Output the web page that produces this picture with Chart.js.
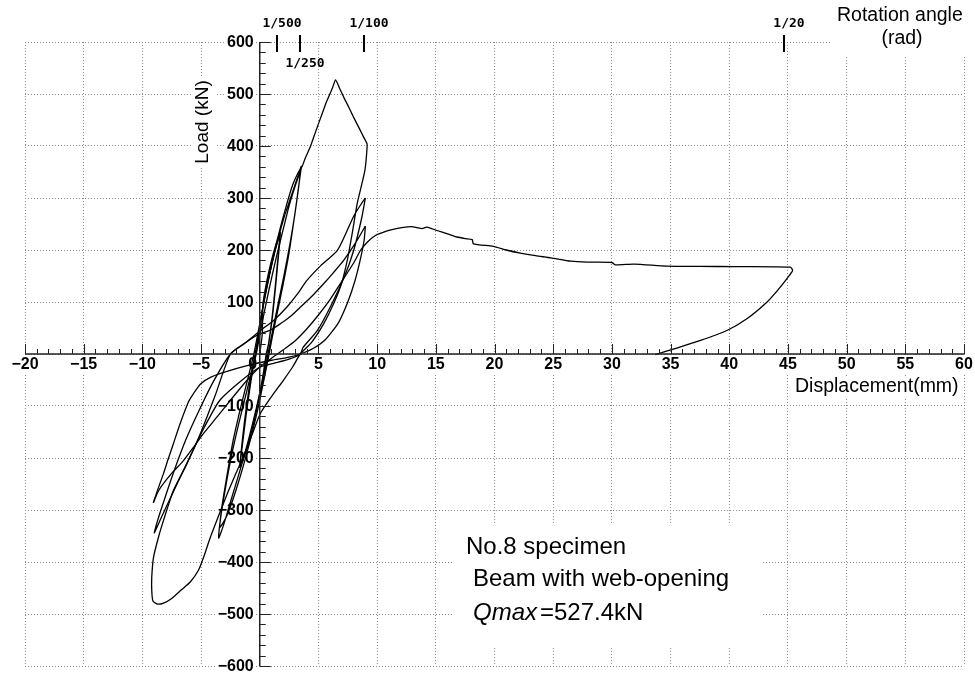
<!DOCTYPE html>
<html>
<head>
<meta charset="utf-8">
<script src="https://cdn.jsdelivr.net/npm/chart.js@4.4.1/dist/chart.umd.min.js"></script>
<style>
  html, body { margin: 0; padding: 0; background: #fff; }
</style>
</head>
<body>
<canvas id="hysteresis" width="975" height="674"></canvas>
<script>
// tick values
const xTickValues = [-20, -15, -10, -5, 0, 5, 10, 15, 20, 25, 30, 35, 40, 45, 50, 55, 60];
const yTickValues = [-600, -500, -400, -300, -200, -100, 0, 100, 200, 300, 400, 500, 600];

// rotation angle marks on top (rad) and the displacement they sit at (mm)
const rotLabels = ['1/500', '1/250', '1/100', '1/20'];
const rotDisp = [1.5, 3.4, 8.9, 44.7];

// load history, [displacement mm, load kN]
const cycle500 = [
  [0, 0], [0.22, 40], [0.27, 95], [0.6, 140], [1.0, 180], [1.4, 212], [1.75, 234],
  [1.6, 190], [1.35, 130], [1.1, 75], [0.8, 25], [0.6, 0], [0.3, -40], [-0.1, -90], [-0.6, -140], [-1.1, -180], [-1.5, -205], [-1.7, -218],
  [-1.55, -180], [-1.3, -130], [-1.0, -80], [-0.7, -35], [-0.4, 0], [0.0, 50], [0.35, 100], [0.8, 150], [1.25, 195], [1.7, 228],
  [1.55, 185], [1.3, 125], [1.05, 70], [0.75, 20], [0.55, 0], [0.25, -45], [-0.2, -100], [-0.7, -150], [-1.2, -190], [-1.65, -213],
  [-1.45, -170], [-1.15, -115], [-0.8, -60], [-0.45, -10], [-0.35, 0]
];
const cycle250 = [
  [-0.35, 0], [0.0, 50], [0.4, 110], [1.0, 170], [1.6, 225], [2.1, 265], [2.6, 298], [3.0, 325], [3.3, 345], [3.54, 361],
  [3.3, 320], [3.0, 270], [2.6, 215], [2.1, 155], [1.6, 100], [1.1, 45], [0.7, 0], [0.3, -45], [-0.3, -105], [-0.9, -160], [-1.5, -210], [-2.1, -255], [-2.7, -300], [-3.1, -330], [-3.5, -354],
  [-3.3, -310], [-2.9, -255], [-2.4, -195], [-1.8, -135], [-1.2, -80], [-0.6, -25], [-0.3, 0], [0.2, 60], [0.8, 125], [1.4, 185], [2.0, 240], [2.5, 285], [2.9, 315], [3.2, 335], [3.45, 350],
  [3.25, 310], [2.9, 255], [2.5, 195], [2.0, 135], [1.5, 80], [1.0, 25], [0.8, 0], [0.4, -45], [-0.2, -110], [-0.8, -165], [-1.4, -215], [-2.0, -260], [-2.6, -300], [-3.0, -320], [-3.4, -333],
  [-3.2, -290], [-2.8, -235], [-2.3, -170], [-1.7, -110], [-1.1, -55], [-0.6, -10], [-0.5, 0]
];
const cycle100a = [
  [-0.5, 0], [0.1, 70], [0.8, 150], [1.5, 220], [2.2, 280], [2.8, 325], [3.3, 350], [3.6, 360], [3.9, 378], [4.3, 398], [4.8, 430], [5.2, 455], [5.6, 480], [5.9, 496], [6.2, 512], [6.46, 527],
  [6.8, 511], [7.15, 494], [7.6, 474], [8.0, 455], [8.5, 433], [8.85, 417], [9.14, 404], [9.08, 378], [8.95, 352], [8.7, 327], [8.3, 289], [7.9, 235], [7.5, 185], [7.0, 138], [6.3, 97], [5.44, 58], [4.4, 22], [3.45, 0],
  [2.8, -25], [2.0, -51], [1.0, -82], [0.04, -115], [-0.6, -152], [-1.3, -192], [-2.0, -228], [-2.7, -265], [-3.4, -305], [-4.2, -352], [-4.8, -392], [-5.2, -415], [-5.9, -438], [-6.65, -453], [-7.5, -470], [-8.2, -479], [-8.7, -481], [-9.1, -475], [-9.2, -455], [-9.2, -429],
  [-9.05, -391], [-8.6, -350], [-8.2, -320], [-7.35, -262], [-6.2, -211], [-5.0, -150], [-3.8, -80], [-2.5, 0],
  [-1.2, 22], [0.05, 45], [1.2, 65], [2.3, 90], [3.2, 115], [4.0, 141], [5.2, 170], [6.6, 199], [7.4, 235], [8.0, 265], [8.6, 287], [9.0, 300]
];
const cycle100b = [
  [9.0, 300], [8.7, 263], [8.0, 199], [7.2, 148], [6.0, 90], [4.9, 45], [3.7, 13], [3.45, 0],
  [2.5, -10], [1.2, -18], [0.04, -25], [-1.5, -50], [-3.4, -89], [-4.7, -140], [-6.0, -200], [-7.3, -262], [-8.3, -310], [-8.98, -344],
  [-8.7, -320], [-8.2, -285], [-7.3, -225], [-6.3, -165], [-5.2, -110], [-4.0, -55], [-2.5, 0],
  [-1.5, 17], [-0.24, 36], [1.0, 47], [1.75, 58], [2.6, 72], [3.45, 90], [4.4, 110], [5.44, 135], [6.3, 157], [7.15, 180], [8.2, 215], [9.0, 246]
];
const cycle100c = [
  [9.0, 246], [8.9, 220], [8.6, 185], [8.1, 140], [7.5, 100], [6.7, 60], [5.6, 28], [4.5, 10], [3.45, 0],
  [2.5, -6], [1.0, -12], [-1.0, -22], [-3.0, -35], [-4.2, -45], [-5.07, -58], [-5.7, -78], [-6.07, -92], [-6.8, -135], [-7.35, -172], [-7.8, -202], [-8.2, -230], [-8.6, -255], [-9.07, -286]
];
const finalPush = [
  [-9.07, -286], [-8.6, -262], [-7.6, -232], [-6.5, -205], [-5.6, -178], [-4.8, -153], [-3.6, -120], [-2.5, -89], [-1.1, -51], [0.0, -25], [1.2, -5], [2.0, 8], [3.0, 25], [4.0, 48], [5.0, 75], [6.0, 105], [7.0, 140], [8.0, 175], [8.6, 200],
  [9.2, 216], [9.85, 228], [10.5, 234], [11.27, 239], [12.1, 243], [12.97, 245], [13.4, 243], [13.83, 241], [14.25, 244], [15.1, 237.5], [16.0, 231], [16.8, 225], [17.5, 222], [18.1, 220], [18.2, 212], [19.9, 207],
  [21.0, 200], [22.2, 194], [23.5, 189], [24.8, 185], [26.5, 178.5], [27.9, 176.6], [30.0, 176], [30.3, 171.5], [31.9, 173], [34.7, 169], [37.5, 168.5], [40.4, 168], [45.2, 167],
  [45.4, 160.6], [44.9, 144.6], [44.1, 122], [43.2, 99.6], [41.5, 67.7], [39.8, 45.2], [37.55, 26], [35.6, 12], [33.7, -1]
];

const stages = [cycle500, cycle250, cycle100a, cycle100b, cycle100c, finalPush];

const FONT = '"Liberation Sans", Arial, sans-serif';
const fmtTick = v => v < 0 ? '\u2212' + Math.abs(v) : String(v);

function boxedText(ctx, text, x, y, padX, h) {
  const w = ctx.measureText(text).width;
  let left = x;
  if (ctx.textAlign === 'center') left = x - w / 2;
  if (ctx.textAlign === 'right') left = x - w;
  ctx.fillStyle = '#fff';
  ctx.fillRect(left - padX, y - h / 2, w + padX * 2, h);
  ctx.fillStyle = '#000';
  ctx.fillText(text, x, y);
}

// labels, titles and the notes (under the curves)
const decorBelow = {
  id: 'decorBelow',
  beforeDatasetsDraw(chart) {
    const { ctx, scales: { x, y } } = chart;
    const x0 = x.getPixelForValue(0);
    const y0 = y.getPixelForValue(0);
    ctx.save();
    ctx.font = 'bold 16px ' + FONT;
    ctx.textBaseline = 'middle';

    ctx.textAlign = 'center';
    xTickValues.forEach(v => {
      const px = x.getPixelForValue(v) + (v === 0 ? -7 : 0);
      boxedText(ctx, fmtTick(v), px, y0 + 11, 1, 16);
    });

    ctx.textAlign = 'right';
    yTickValues.forEach(v => {
      if (v === 0) return;
      boxedText(ctx, fmtTick(v), x0 - 6, y.getPixelForValue(v) + 1, 2, 16);
    });

    // axis titles
    ctx.font = '19.5px ' + FONT;
    ctx.textAlign = 'left';
    boxedText(ctx, 'Displacement(mm)', 795, 387, 2, 22);

    ctx.save();
    ctx.translate(203, 122);
    ctx.rotate(-Math.PI / 2);
    ctx.textAlign = 'center';
    ctx.font = '19px ' + FONT;
    boxedText(ctx, 'Load (kN)', 0, 0, 3, 24);
    ctx.restore();

    // rotation angle heading
    ctx.fillStyle = '#fff';
    ctx.fillRect(832, 0, 143, 57);
    ctx.fillStyle = '#000';
    ctx.font = '19.5px ' + FONT;
    ctx.textBaseline = 'alphabetic';
    ctx.textAlign = 'left';
    ctx.fillText('Rotation angle', 837, 21);
    ctx.textAlign = 'center';
    ctx.fillText('(rad)', 902, 44);

    // specimen note
    ctx.fillStyle = '#fff';
    ctx.fillRect(453, 524, 310, 122);
    ctx.fillStyle = '#000';
    ctx.textAlign = 'left';
    ctx.font = '24px ' + FONT;
    ctx.fillText('No.8 specimen', 466, 554);
    ctx.fillText('Beam with web-opening', 473, 586);
    ctx.font = 'italic 24px ' + FONT;
    ctx.fillText('Qmax', 473, 620);
    const qw = ctx.measureText('Qmax').width;
    ctx.font = '24px ' + FONT;
    ctx.fillText('=527.4kN', 473 + qw + 3, 620);
    ctx.restore();
  }
};

// axis lines, tick marks and rotation marks (over the curves)
const decorAbove = {
  id: 'decorAbove',
  afterDatasetsDraw(chart) {
    const { ctx, scales: { x, y } } = chart;
    const x0 = x.getPixelForValue(0);
    const y0 = y.getPixelForValue(0);
    ctx.save();
    ctx.strokeStyle = '#222';
    ctx.lineWidth = 1.5;
    ctx.beginPath();
    ctx.moveTo(x.getPixelForValue(-20), y0);
    ctx.lineTo(x.getPixelForValue(60), y0);
    ctx.moveTo(x0, y.getPixelForValue(600));
    ctx.lineTo(x0, y.getPixelForValue(-600));
    ctx.stroke();

    ctx.lineWidth = 1;
    ctx.beginPath();
    for (let v = -20; v <= 60; v++) {
      const px = Math.round(x.getPixelForValue(v)) + 0.5;
      const len = v % 5 === 0 ? 10 : 5;
      ctx.moveTo(px, y0);
      ctx.lineTo(px, y0 - len);
    }
    for (let v = -600; v <= 600; v += 20) {
      const py = Math.round(y.getPixelForValue(v)) + 0.5;
      const len = v % 100 === 0 ? 11 : 6;
      ctx.moveTo(x0, py);
      ctx.lineTo(x0 + len, py);
    }
    ctx.stroke();

    const top = y.getPixelForValue(600);
    ctx.lineWidth = 2;
    ctx.strokeStyle = '#000';
    ctx.fillStyle = '#000';
    ctx.font = 'bold 13px "DejaVu Sans Mono", monospace';
    ctx.textAlign = 'center';
    ctx.textBaseline = 'alphabetic';
    rotDisp.forEach((d, i) => {
      const px = Math.round(x.getPixelForValue(d));
      ctx.beginPath();
      ctx.moveTo(px, top - 7);
      ctx.lineTo(px, top + 10);
      ctx.stroke();
      const below = rotLabels[i] === '1/250';
      ctx.fillText(rotLabels[i], px + 5, below ? top + 25 : top - 15);
    });
    ctx.restore();
  }
};

const ctx = document.getElementById('hysteresis').getContext('2d');
new Chart(ctx, {
  type: 'scatter',
  data: {
    datasets: stages.map(s => ({
      data: s.map(([dx, ld]) => ({ x: dx, y: ld })),
      showLine: true,
      borderColor: '#000',
      borderWidth: 1.3,
      pointRadius: 0,
      tension: 0.2
    }))
  },
  options: {
    responsive: false,
    animation: false,
    events: [],
    devicePixelRatio: 1,
    layout: { padding: { left: 25, right: 11, top: 42, bottom: 8 } },
    plugins: { legend: { display: false }, tooltip: { enabled: false } },
    scales: {
      x: {
        type: 'linear',
        min: -20,
        max: 60,
        position: { y: 0 },
        ticks: { stepSize: 5, display: false },
        grid: { color: '#8a8a8a', lineWidth: 1, drawTicks: false },
        border: { display: false, dash: [1, 2] }
      },
      y: {
        type: 'linear',
        min: -600,
        max: 600,
        position: { x: 0 },
        ticks: { stepSize: 100, display: false },
        grid: { color: '#8a8a8a', lineWidth: 1, drawTicks: false },
        border: { display: false, dash: [1, 2] }
      }
    }
  },
  plugins: [decorBelow, decorAbove]
});
</script>
</body>
</html>
